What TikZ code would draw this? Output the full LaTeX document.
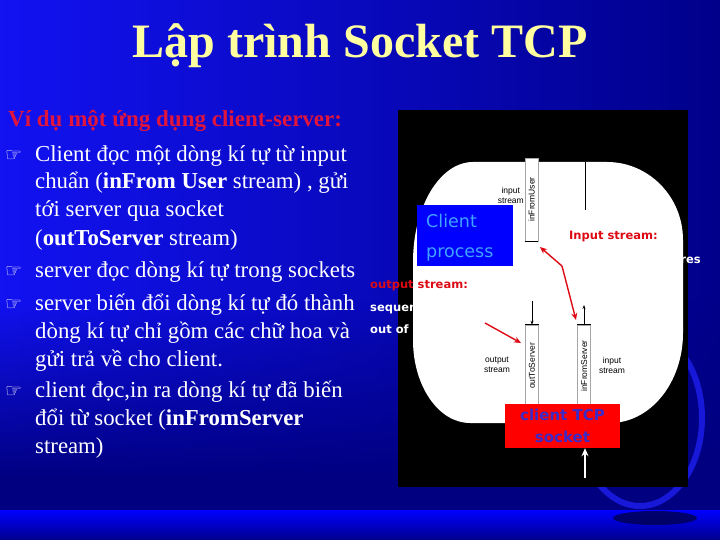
\documentclass[tikz,border=0pt]{standalone}
\usepackage{fontspec}
\setmainfont{Liberation Serif}
\newfontfamily\djv{DejaVu Sans}
\newfontfamily\lsans{Liberation Sans}
\newfontfamily\cms{DejaVu Sans}
\usetikzlibrary{arrows.meta,fadings}
\definecolor{bgL}{HTML}{1212F2}
\definecolor{bgR}{HTML}{00008A}
\definecolor{navy}{HTML}{000080}
\definecolor{ttl}{HTML}{FFFFA0}
\definecolor{hred}{HTML}{E0143C}
\definecolor{lred}{HTML}{DD0A14}
\definecolor{cblue}{HTML}{3FA3FF}
\definecolor{sktxt}{HTML}{3A2BC8}
\definecolor{ring}{HTML}{1818D8}
\tikzset{
  body/.style={anchor=base west, inner sep=0pt, text=white, font=\fontsize{22.8}{24}\selectfont},
  bul/.style={anchor=base west, inner sep=0pt, text=white, font=\djv\fontsize{19}{20}\selectfont},
  pipe/.style={draw=gray!70, fill=white, line width=0.6pt},
  pipelbl/.style={rotate=90, inner sep=0pt, font=\lsans\fontsize{8.5}{9}\selectfont},
  smlbl/.style={inner sep=0pt, align=center, font=\lsans\fontsize{8.5}{10}\selectfont},
  redlbl/.style={anchor=base west, inner sep=0pt, text=lred, font=\cms\bfseries\fontsize{11.5}{12}\selectfont},
  whlbl/.style={anchor=base west, inner sep=0pt, text=white, font=\cms\bfseries\fontsize{11.5}{12}\selectfont},
  redarrow/.style={draw=lred, line width=1.4pt, -{Stealth[length=7pt,width=6pt]}},
  blkarrow/.style={draw=black, line width=0.6pt, -{Stealth[length=4pt,width=3pt]}},
}
\begin{document}
\begin{tikzpicture}[x=1pt,y=-1pt]
\useasboundingbox (0,0) rectangle (720,540);
% background
\shade[left color=bgL, right color=bgR] (0,0) rectangle (720,480);
\fill[navy, path fading=north] (0,300) rectangle (720,480);
\fill[navy] (0,480) rectangle (720,510);
\shade[top color=blue, bottom color=navy!90!blue] (0,510) rectangle (720,540);
% swoosh ring
\draw[ring, line width=6pt] (640,418) ellipse[x radius=62, y radius=88];
\fill[navy!60!black, opacity=0.8] (655,518) ellipse[x radius=42, y radius=7];
% diagram black box
\fill[black] (398,110) rectangle (688,487);
% white rounded region
\fill[white] (413,262) arc[start angle=180,end angle=270,x radius=60,y radius=100]
  -- (607,162) arc[start angle=270,end angle=360,x radius=76,y radius=78]
  -- (683,333) arc[start angle=0,end angle=90,x radius=73,y radius=90]
  -- (470,423) arc[start angle=90,end angle=180,x radius=57,y radius=83] -- cycle;
% top vertical line
\coordinate (vl1) at (585,162);
\coordinate (vl2) at (585,210);
\draw[black, line width=0.8pt] (vl1) -- (vl2);
% inFromUser pipe
\node[pipe, minimum width=13pt, minimum height=83pt, inner sep=0pt] (pu) at (531.5,199.5) {};
\node[pipelbl] (pul) at (pu.center) {inFromUser};
\draw[black, line width=0.8pt] (pu.south west) -- (pu.south east);
\node[smlbl, anchor=east] (ius) at (524,195) {input\\stream};
% bottom pipes
\node[pipe, minimum width=13pt, minimum height=82pt, inner sep=0pt] (po) at (532,366) {};
\node[pipelbl] (pol) at (po.center) {outToServer};
\node[pipe, minimum width=13pt, minimum height=82pt, inner sep=0pt] (pi) at (584,366) {};
\node[pipelbl] (pil) at (pi.center) {inFromServer};
\draw[black, line width=0.8pt] (po.north west) -- (po.north east);
\draw[black, line width=0.8pt] (pi.north west) -- (pi.north east);
\coordinate (oa) at (532,301);
\coordinate (ia) at (584,305);
\draw[blkarrow] (oa) -- (po.north);
\draw[blkarrow] (pi.north) -- (ia);
\node[smlbl] (ostr) at (497,365) {output\\stream};
\node[smlbl] (istr) at (612,365) {input\\stream};
% client process box
\node[fill=blue, minimum width=96pt, minimum height=61pt, inner sep=0pt] (cp) at (465,235.5) {};
\node[anchor=base west, inner sep=0pt, text=cblue, font=\cms\fontsize{17.5}{20}\selectfont] (cp1) at (426,228) {Client};
\node[anchor=base west, inner sep=0pt, text=cblue, font=\cms\fontsize{17.5}{20}\selectfont] (cp2) at (426,257) {process};
% client TCP socket
\node[fill=red, minimum width=115pt, minimum height=44pt, inner sep=0pt, align=center,
  text=sktxt, font=\cms\bfseries\fontsize{15}{22}\selectfont] (sock) at (562.5,426) {client TCP\\socket};
\coordinate (wa) at (585,478);
\draw[white, line width=1.6pt, -{Stealth[length=8pt,width=7pt]}] (wa) -- (sock.south -| wa);
% labels
\node[redlbl] (inlbl) at (569,240) {Input stream:};
\node[whlbl, anchor=base east] (res) at (701,263) {res};
\node[redlbl] (outlbl) at (370,288) {output stream:};
\node[whlbl] (seq) at (370,311) {sequence};
\node[whlbl] (outof) at (370,333) {out of};
% red arrows
\coordinate (k1) at (562,266);
\coordinate (t1) at (540,247);
\coordinate (t2) at (576,320);
\coordinate (s2) at (485,323);
\coordinate (t3) at (521,343);
\draw[redarrow] (k1) -- (t1);
\draw[redarrow] (k1) -- (t2);
\draw[redarrow] (s2) -- (t3);
% title
\node[inner sep=0pt, text=ttl, font=\bfseries\fontsize{48}{50}\selectfont] (title) at (360,46) {Lập trình Socket TCP};
% heading
\node[anchor=base west, inner sep=0pt, text=hred, font=\bfseries\fontsize{23}{24}\selectfont] (head) at (8,127) {Ví dụ một ứng dụng client-server:};
% bullets and text
\node[bul] (b1) at (5,162) {☞};
\node[body] (l1) at (35,162) {Client đọc một dòng kí tự từ input};
\node[body] (l2) at (35,189) {chuẩn (\textbf{inFrom User} stream) , gửi};
\node[body] (l3) at (35,217) {tới server qua socket};
\node[body] (l4) at (35,245) {(\textbf{outToServer} stream)};
\node[bul] (b2) at (5,277) {☞};
\node[body] (l5) at (35,277) {server đọc dòng kí tự trong sockets};
\node[bul] (b3) at (5,310) {☞};
\node[body] (l6) at (35,310) {server biến đổi dòng kí tự đó thành};
\node[body] (l7) at (35,338) {dòng kí tự chỉ gồm các chữ hoa và};
\node[body] (l8) at (35,366) {gửi trả về cho client.};
\node[bul] (b4) at (5,397) {☞};
\node[body] (l9) at (35,397) {client đọc,in ra dòng kí tự đã biến};
\node[body] (l10) at (35,425) {đổi từ socket (\textbf{inFromServer}};
\node[body] (l11) at (35,453) {stream)};
\end{tikzpicture}
\end{document}
